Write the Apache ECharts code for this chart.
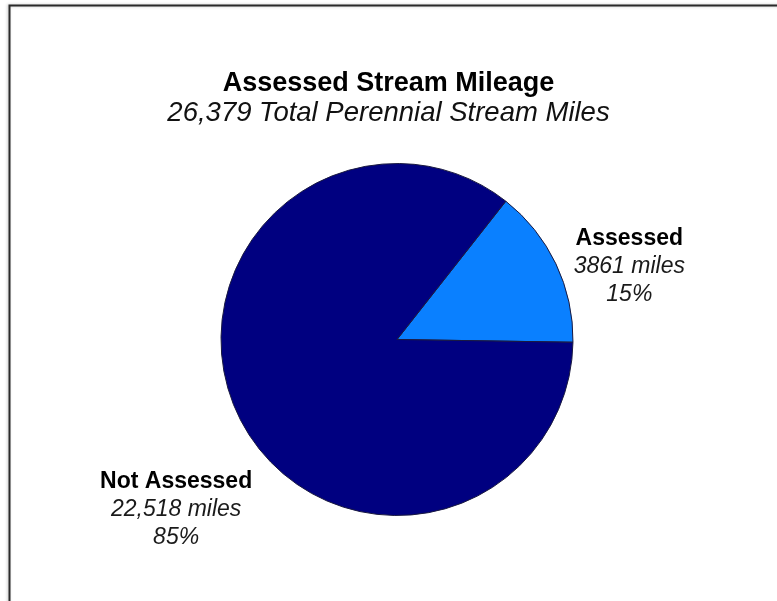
<!DOCTYPE html>
<html>
<head>
<meta charset="utf-8">
<script src="https://cdn.jsdelivr.net/npm/echarts@6/dist/echarts.min.js"></script>
<style>
  html, body { margin: 0; padding: 0; background: #fff; }
  #chart { width: 777px; height: 601px; }
</style>
</head>
<body>
<div id="chart"></div>
<script>
// Stream mileage split into assessed / not assessed
const categories = ['Assessed', 'Not Assessed'];
const miles = [3861, 22518];
const sliceColors = ['#0a80ff', '#000080'];

const titleText = 'Assessed Stream Mileage';
const subtitleText = '26,379 Total Perennial Stream Miles';

const FONT = '"Liberation Sans", Arial, sans-serif';

function milesText(v) {
  return v >= 10000 ? v.toLocaleString('en-US') : String(v);
}

const chart = echarts.init(document.getElementById('chart'), null, { renderer: 'canvas' });

const CX = 397, CY = 339.5, R = 176;

chart.setOption({
  backgroundColor: '#ffffff',
  animation: false,
  graphic: [{
    type: 'rect',
    shape: { x: 9.5, y: 5.5, width: 820, height: 700 },
    style: { fill: 'none', stroke: '#2a2a2a', lineWidth: 2,
             shadowColor: 'rgba(0,0,0,0.25)', shadowBlur: 3, shadowOffsetX: -1 },
    silent: true
  }],
  title: {
    text: titleText,
    subtext: subtitleText,
    left: 'center',
    top: 65,
    itemGap: 3,
    textStyle: { fontFamily: FONT, fontSize: 27, fontWeight: 'bold', color: '#000' },
    subtextStyle: { fontFamily: FONT, fontSize: 27.5, fontStyle: 'italic', color: '#111' }
  },
  series: [{
    type: 'pie',
    center: [CX, CY],
    radius: R,
    startAngle: 51.8,
    clockwise: true,
    itemStyle: { borderColor: '#1a1a40', borderWidth: 1 },
    labelLine: { show: false },
    label: {
      show: true,
      position: 'outside',
      align: 'center',
      lineHeight: 28,
      formatter: function (p) {
        return '{n|' + p.name + '}\n{v|' + milesText(p.value) + ' miles}\n{v|' + Math.round(p.percent) + '%}';
      },
      rich: {
        n: { fontFamily: FONT, fontSize: 23, fontWeight: 'bold', color: '#000', lineHeight: 28, align: 'center' },
        v: { fontFamily: FONT, fontSize: 23, fontStyle: 'italic', color: '#1a1a1a', lineHeight: 28, align: 'center' }
      }
    },
    labelLayout: function (params) {
      // label anchors placed relative to the pie centre and radius
      const off = params.dataIndex === 0 ? [1.32, -0.415] : [-1.255, 0.966];
      return {
        x: CX + off[0] * R,
        y: CY + off[1] * R,
        align: 'center',
        verticalAlign: 'middle'
      };
    },
    emphasis: { disabled: true },
    data: categories.map((c, i) => ({ name: c, value: miles[i], itemStyle: { color: sliceColors[i] } }))
  }]
});
</script>
</body>
</html>
